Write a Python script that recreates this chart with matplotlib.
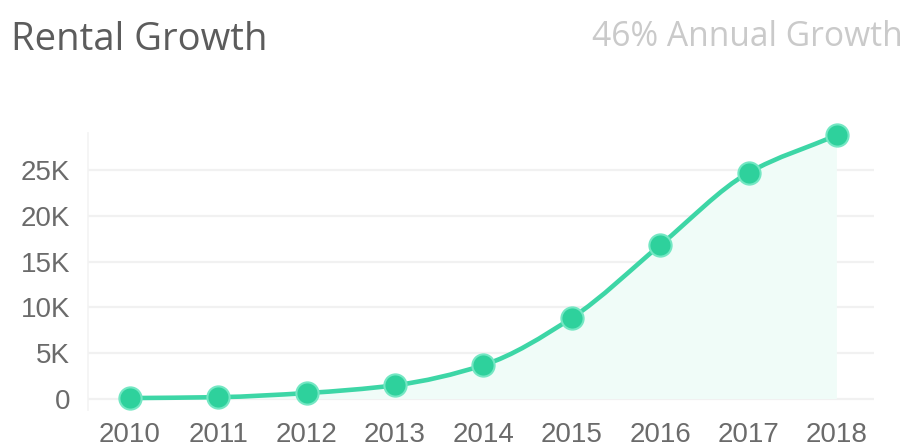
import matplotlib
matplotlib.use('Agg')
import matplotlib.pyplot as plt
from matplotlib.path import Path
from matplotlib.patches import PathPatch
import numpy as np

years = [2010, 2011, 2012, 2013, 2014, 2015, 2016, 2017, 2018]
rentals = [100, 200, 650, 1500, 3700, 8850, 16800, 24700, 28800]
y_ticks = [0, 5000, 10000, 15000, 20000, 25000]
y_labels = ['0', '5K', '10K', '15K', '20K', '25K']

title = 'Rental Growth'
subtitle = '46% Annual Growth'

LINE = '#3dd6a6'
DOT = '#2ed19c'
FILL = '#f0fcf8'
TICK_FONT = ['Liberation Sans Narrow', 'Liberation Sans', 'DejaVu Sans']


def monotone_path(xs, ys, close_to=None):
    # monotone cubic (Fritsch-Carlson) written as bezier segments
    xs = np.asarray(xs, dtype=float)
    ys = np.asarray(ys, dtype=float)
    h = np.diff(xs)
    d = np.diff(ys) / h
    m = np.zeros_like(ys)
    m[0], m[-1] = d[0], d[-1]
    for k in range(1, len(ys) - 1):
        if d[k - 1] * d[k] <= 0:
            m[k] = 0
        else:
            m[k] = 3 * (h[k - 1] + h[k]) / ((2 * h[k] + h[k - 1]) / d[k - 1] + (h[k] + 2 * h[k - 1]) / d[k])
    verts = [(xs[0], ys[0])]
    codes = [Path.MOVETO]
    for k in range(len(xs) - 1):
        verts += [(xs[k] + h[k] / 3, ys[k] + m[k] * h[k] / 3),
                  (xs[k + 1] - h[k] / 3, ys[k + 1] - m[k + 1] * h[k] / 3),
                  (xs[k + 1], ys[k + 1])]
        codes += [Path.CURVE4] * 3
    if close_to is not None:
        verts += [(xs[-1], close_to), (xs[0], close_to), (xs[0], ys[0])]
        codes += [Path.LINETO, Path.LINETO, Path.CLOSEPOLY]
    return Path(verts, codes)


fig = plt.figure(figsize=(9.07, 4.47), dpi=100)
ax = fig.add_axes([0.097, 0.0828, 0.8666, 0.6197])

ax.add_patch(PathPatch(monotone_path(years, rentals, close_to=0), facecolor=FILL,
                       edgecolor='none', zorder=1))
ax.add_patch(PathPatch(monotone_path(years, rentals), facecolor='none', edgecolor=LINE,
                       linewidth=3.3, capstyle='round', zorder=3, clip_on=False))
ax.plot(years, rentals, linestyle='none', marker='o', markersize=16,
        markerfacecolor=DOT, markeredgecolor='#74e7c3', markeredgewidth=1.5,
        zorder=4, clip_on=False)

ax.set_xlim(2010 - 0.475, 2018.42)
ax.set_ylim(-1200, 29040)
ax.set_xticks(years)
ax.set_xticklabels([str(y) for y in years])
ax.set_yticks(y_ticks)
ax.set_yticklabels(y_labels)

ax.grid(axis='y', color='#f1f1f1', linewidth=1.6)
ax.set_axisbelow(True)
for side in ['top', 'right', 'bottom']:
    ax.spines[side].set_visible(False)
ax.spines['left'].set_color('#f3f3f3')
ax.spines['left'].set_linewidth(1.2)
ax.tick_params(axis='both', length=0, colors='#6b6b6b', labelsize=20)
ax.tick_params(axis='x', pad=9)
ax.tick_params(axis='y', pad=13)
for lab in ax.get_xticklabels() + ax.get_yticklabels():
    lab.set_family(TICK_FONT)

fig.text(0.012, 0.888, title, fontsize=27.5, color='#5c5c5c', family=['Open Sans', 'DejaVu Sans'],
         va='baseline', ha='left')
fig.text(0.995, 0.897, subtitle, fontsize=24.2, color='#cacaca', family=['Open Sans', 'DejaVu Sans'],
         va='baseline', ha='right')

fig.savefig('out.png', dpi=100)
